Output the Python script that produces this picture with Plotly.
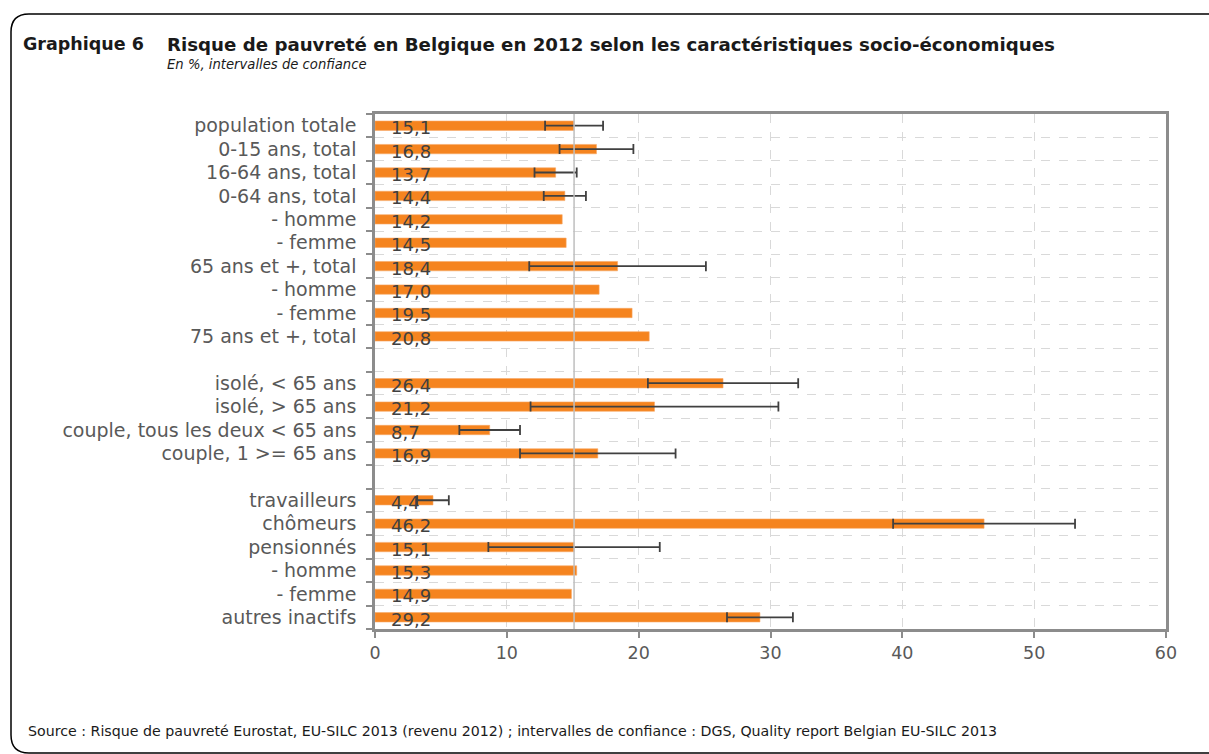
import plotly.graph_objects as go

# Categories (top to bottom); blank strings are spacer rows between groups
categories = [
    "population totale", "0-15 ans, total", "16-64 ans, total", "0-64 ans, total",
    "- homme", "- femme", "65 ans et +, total", "- homme", "- femme",
    "75 ans et +, total", "",
    "isolé, < 65 ans", "isolé, > 65 ans", "couple, tous les deux < 65 ans",
    "couple, 1 >= 65 ans", "",
    "travailleurs", "chômeurs", "pensionnés", "- homme", "- femme", "autres inactifs",
]
# At-risk-of-poverty rate, %
values = [15.1, 16.8, 13.7, 14.4, 14.2, 14.5, 18.4, 17.0, 19.5, 20.8, None,
          26.4, 21.2, 8.7, 16.9, None,
          4.4, 46.2, 15.1, 15.3, 14.9, 29.2]
# Confidence interval bounds, %
ci_low = [12.9, 14.0, 12.1, 12.8, None, None, 11.7, None, None, None, None,
          20.7, 11.8, 6.4, 11.0, None,
          3.2, 39.3, 8.6, None, None, 26.7]
ci_high = [17.3, 19.6, 15.3, 16.0, None, None, 25.1, None, None, None, None,
           32.1, 30.6, 11.0, 22.8, None,
           5.6, 53.1, 21.6, None, None, 31.7]
x_ticks = [0, 10, 20, 30, 40, 50, 60]

W, H = 1209, 754
L, R, T, B = 375, 43, 114, 125
PW, PH = W - L - R, H - T - B


def px(p):
    return (p - L) / PW


def py(p):
    return 1 - (p - T) / PH


rows = list(range(len(categories)))
bar_rows = [i for i, v in enumerate(values) if v is not None]
ci_rows = [i for i in rows if ci_low[i] is not None]

fig = go.Figure()
fig.add_trace(go.Bar(
    x=[values[i] for i in bar_rows], y=bar_rows, orientation="h",
    marker=dict(color="#F5841F", line=dict(color="#F7A866", width=0.6)),
    hoverinfo="x+y", showlegend=False,
))
fig.add_trace(go.Scatter(
    x=[values[i] for i in ci_rows], y=ci_rows, mode="markers",
    marker=dict(size=1, opacity=0),
    error_x=dict(
        type="data", symmetric=False,
        array=[ci_high[i] - values[i] for i in ci_rows],
        arrayminus=[values[i] - ci_low[i] for i in ci_rows],
        color="#404040", thickness=1.8, width=5,
    ),
    showlegend=False, hoverinfo="skip",
))

# value labels at the base of each bar
for i in bar_rows:
    fig.add_annotation(
        x=0, y=i, xref="x", yref="y", xanchor="left", yanchor="middle",
        xshift=14, yshift=-2, showarrow=False,
        text=f"{values[i]:.1f}".replace(".", ","),
        font=dict(family="DejaVu Sans", size=18, color="#404040"),
    )

# reference line at the overall population rate
fig.add_shape(type="line", xref="x", yref="paper", x0=values[0], x1=values[0],
              y0=0, y1=1, line=dict(color="#BFBFBF", width=1.5), layer="above")

# rounded frame, open on the right
r = 18
fig.add_shape(type="path", xref="paper", yref="paper",
              path=(f"M {px(W)} {py(14)} L {px(11 + r)} {py(14)} "
                    f"Q {px(11)} {py(14)} {px(11)} {py(14 + r)} "
                    f"L {px(11)} {py(753 - r)} "
                    f"Q {px(11)} {py(753)} {px(11 + r)} {py(753)} "
                    f"L {px(W)} {py(753)}"),
              line=dict(color="#000000", width=1.5))

txt = dict(family="DejaVu Sans", color="#1a1a1a")
fig.add_annotation(xref="paper", yref="paper", x=px(21), y=py(44), xanchor="left",
                   yanchor="middle", showarrow=False, text="<b>Graphique 6</b>",
                   font=dict(size=17.5, **txt))
fig.add_annotation(xref="paper", yref="paper", x=px(165), y=py(44), xanchor="left",
                   yanchor="middle", showarrow=False,
                   text="<b>Risque de pauvreté en Belgique en 2012 selon les caractéristiques socio-économiques</b>",
                   font=dict(size=18.2, **txt))
fig.add_annotation(xref="paper", yref="paper", x=px(165), y=py(65), xanchor="left",
                   yanchor="middle", showarrow=False,
                   text="<i>En %, intervalles de confiance</i>",
                   font=dict(size=13.2, **txt))
fig.add_annotation(xref="paper", yref="paper", x=px(26), y=py(731), xanchor="left",
                   yanchor="middle", showarrow=False,
                   text="Source : Risque de pauvreté Eurostat, EU-SILC 2013 (revenu 2012) ; "
                        "intervalles de confiance : DGS, Quality report Belgian EU-SILC 2013",
                   font=dict(size=14.2, **txt))

axis_grey = "#8C8C8C"
fig.update_layout(
    width=W, height=H,
    margin=dict(l=L, r=R, t=T, b=B, autoexpand=False),
    paper_bgcolor="white", plot_bgcolor="white",
    bargap=0.6,
    font=dict(family="DejaVu Sans", color="#595959"),
    xaxis=dict(
        range=[0, 60], tickvals=x_ticks, ticks="outside", ticklen=6,
        tickcolor=axis_grey, tickwidth=2,
        showline=True, linecolor=axis_grey, linewidth=2.5, mirror=True,
        showgrid=True, gridcolor="#D9D9D9", griddash="dash", gridwidth=1.2,
        zeroline=False, tickfont=dict(size=17.5, color="#595959"),
        fixedrange=True,
    ),
    yaxis=dict(
        range=[len(categories) - 0.5, -0.5], tickmode="array",
        tickvals=rows, ticktext=categories, ticks="",
        ticklabelstandoff=12,
        showline=True, linecolor=axis_grey, linewidth=2.5, mirror=True,
        showgrid=False, zeroline=False,
        tickfont=dict(size=19, color="#595959"),
        minor=dict(tickvals=[i - 0.5 for i in range(len(categories) + 1)],
                   ticks="outside", ticklen=6, tickcolor=axis_grey, tickwidth=2,
                   showgrid=True, gridcolor="#D9D9D9", griddash="dash", gridwidth=1.2),
        fixedrange=True,
    ),
)

fig.write_html("out.html")
